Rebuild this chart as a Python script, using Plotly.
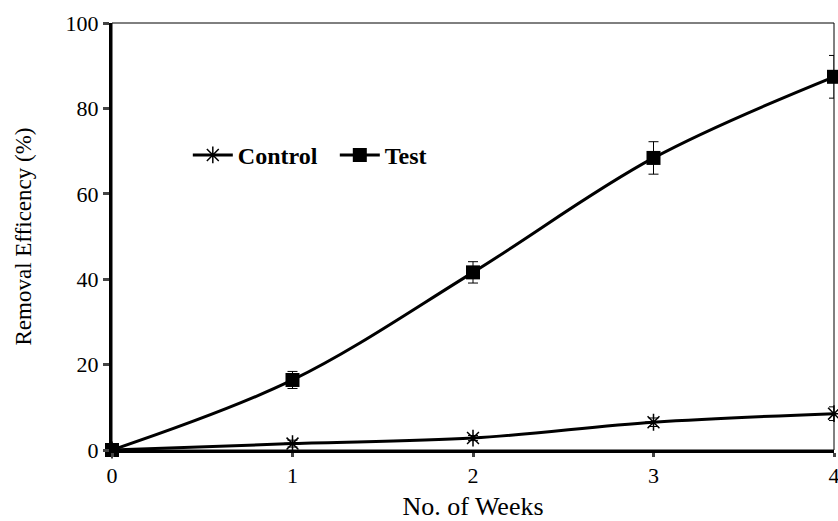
import plotly.graph_objects as go

weeks = [0, 1, 2, 3, 4]
control = [0, 1.5, 2.8, 6.5, 8.5]
control_err = [0.3, 0.8, 0.6, 1.0, 1.6]
test = [0, 16.4, 41.6, 68.4, 87.4]
test_err = [0.5, 2.0, 2.5, 3.8, 5.0]
x_ticks = [0, 1, 2, 3, 4]
y_ticks = [0, 20, 40, 60, 80, 100]

font = "Liberation Serif, Times New Roman, serif"

fig = go.Figure()
fig.add_trace(go.Scatter(
    x=weeks, y=control, name="Control", mode="lines+markers",
    line=dict(color="black", width=3, shape="spline"),
    marker=dict(symbol="asterisk-open", size=14, color="black", line=dict(width=1.5, color="black")),
    error_y=dict(type="data", array=control_err, color="black", thickness=1, width=5),
    cliponaxis=False,
))
fig.add_trace(go.Scatter(
    x=weeks, y=test, name="Test", mode="lines+markers",
    line=dict(color="black", width=3, shape="spline"),
    marker=dict(symbol="square", size=14, color="black"),
    error_y=dict(type="data", array=test_err, color="black", thickness=1, width=5),
    cliponaxis=False,
))

fig.update_layout(
    width=838, height=521,
    margin=dict(l=112, r=4, t=23, b=71),
    paper_bgcolor="white", plot_bgcolor="white",
    font=dict(family=font, size=22, color="black"),
    showlegend=True,
    legend=dict(orientation="h", x=0.105, y=0.69, xanchor="left", yanchor="middle",
                font=dict(family=font, size=24, color="black", weight="bold"),
                bgcolor="rgba(0,0,0,0)", itemwidth=40, entrywidth=92),
    shapes=[dict(type="rect", xref="paper", yref="paper", x0=0, y0=0, x1=1, y1=1,
                 line=dict(color="black", width=1), layer="below")],
)
fig.update_xaxes(range=[0, 4], tickvals=x_ticks, ticks="outside", ticklen=4, tickwidth=3,
                 showline=True, linecolor="black", linewidth=3, showgrid=False, zeroline=False,
                 ticklabeloverflow="allow", automargin=False,
                 title=dict(text="No. of Weeks", font=dict(size=26), standoff=12),
                 tickfont=dict(size=22))
fig.update_yaxes(range=[0, 100], tickvals=y_ticks, ticks="outside", ticklen=6, tickwidth=3,
                 showline=True, linecolor="black", linewidth=3, showgrid=False, zeroline=False,
                 automargin=False,
                 title=dict(text="Removal Efficency (%)", font=dict(size=23), standoff=28),
                 tickfont=dict(size=22))

fig.write_html("out.html", config={"displayModeBar": False},
               post_script="document.body.style.margin='0';document.body.style.overflow='hidden';")
